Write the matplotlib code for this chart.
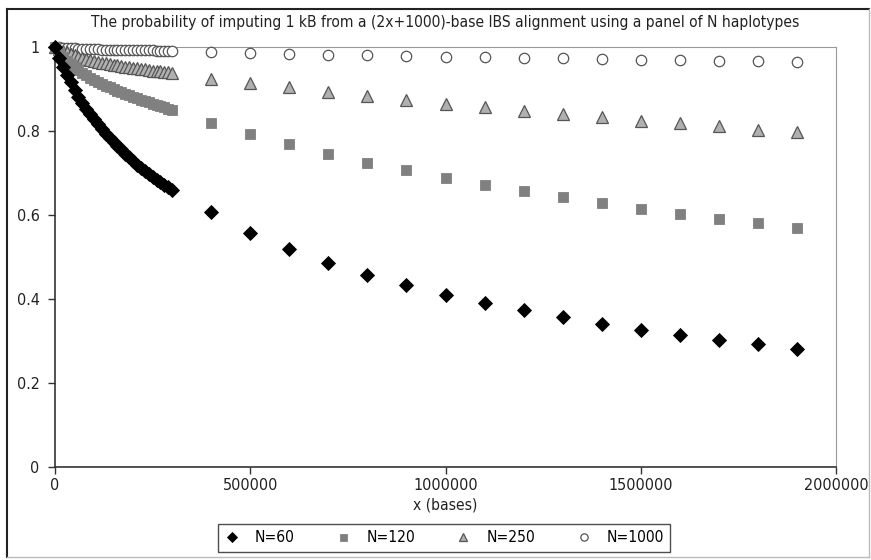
import matplotlib
matplotlib.use("Agg")
import matplotlib.pyplot as plt
from matplotlib.lines import Line2D

# ---- data ----
x_dense = list(range(0, 300001, 10000))
x_sparse = list(range(400000, 1900001, 100000))

n60_dense = [1.000, 0.975, 0.953, 0.934, 0.916, 0.898, 0.881, 0.867, 0.853, 0.840,
             0.828, 0.816, 0.805, 0.794, 0.784, 0.775, 0.765, 0.756, 0.746, 0.737,
             0.728, 0.720, 0.712, 0.704, 0.697, 0.690, 0.684, 0.678, 0.672, 0.666, 0.660]
n60_sparse = [0.606, 0.558, 0.519, 0.486, 0.457, 0.433, 0.410, 0.391, 0.373, 0.356,
              0.341, 0.327, 0.314, 0.302, 0.292, 0.281]

n120_dense = [1.000, 0.988, 0.977, 0.967, 0.960, 0.952, 0.945, 0.939, 0.933, 0.927,
              0.922, 0.917, 0.912, 0.908, 0.904, 0.900, 0.896, 0.892, 0.888, 0.885,
              0.881, 0.878, 0.874, 0.871, 0.868, 0.865, 0.862, 0.859, 0.856, 0.853, 0.850]
n120_sparse = [0.819, 0.793, 0.768, 0.745, 0.725, 0.706, 0.689, 0.672, 0.657, 0.643,
               0.629, 0.615, 0.603, 0.591, 0.580, 0.569]

n250_dense = [1.000, 0.995, 0.991, 0.987, 0.983, 0.980, 0.977, 0.974, 0.972, 0.969,
              0.967, 0.965, 0.963, 0.961, 0.959, 0.958, 0.956, 0.955, 0.953, 0.952,
              0.950, 0.949, 0.948, 0.947, 0.946, 0.944, 0.943, 0.942, 0.941, 0.940, 0.939]
n250_sparse = [0.925, 0.914, 0.904, 0.893, 0.883, 0.874, 0.865, 0.857, 0.848, 0.840,
               0.833, 0.825, 0.818, 0.811, 0.803, 0.797]

n1000_dense = [1.000, 0.999, 0.998, 0.998, 0.997, 0.997, 0.996, 0.996, 0.996, 0.995,
               0.995, 0.995, 0.994, 0.994, 0.994, 0.994, 0.993, 0.993, 0.993, 0.993,
               0.993, 0.992, 0.992, 0.992, 0.992, 0.992, 0.991, 0.991, 0.991, 0.991, 0.991]
n1000_sparse = [0.987, 0.985, 0.984, 0.982, 0.980, 0.979, 0.977, 0.976, 0.974, 0.973,
                0.971, 0.970, 0.968, 0.967, 0.966, 0.964]

labels = ["N=60", "N=120", "N=250", "N=1000"]
y_ticks = [0, 0.2, 0.4, 0.6, 0.8, 1]
y_ticklabels = ["0", "0.2", "0.4", "0.6", "0.8", "1"]
x_ticks = [0, 500000, 1000000, 1500000, 2000000]
x_ticklabels = ["0", "500000", "1000000", "1500000", "2000000"]

title = "The probability of imputing 1 kB from a (2x+1000)-base IBS alignment using a panel of N haplotypes"

plt.rcParams['font.family'] = ['DejaVu Sans']
plt.rcParams['font.stretch'] = 'condensed'

W, H = 871, 560
fig = plt.figure(figsize=(W / 100, H / 100), dpi=100)
ax = fig.add_axes([55 / W, 1 - 467 / H, (836 - 55) / W, (467 - 47) / H])

styles = [
    dict(marker='D', color='black', mfc='black', mec='black', ms=7.0, mew=0.6),
    dict(marker='s', color='#808080', mfc='#808080', mec='#808080', ms=7.2, mew=0.6),
    dict(marker='^', color='#555555', mfc='#b0b0b0', mec='#555555', ms=8.0, mew=0.9),
    dict(marker='o', color='#555555', mfc='white', mec='#555555', ms=7.5, mew=0.9),
]
series = [
    (n1000_dense, n1000_sparse, 3),
    (n250_dense, n250_sparse, 2),
    (n120_dense, n120_sparse, 1),
    (n60_dense, n60_sparse, 0),
]
for dense, sparse, i in series:
    st = styles[i]
    ax.plot(x_dense + x_sparse, dense + sparse, linestyle='none', zorder=3,
            clip_on=False, **st)

ax.set_xlim(0, 2000000)
ax.set_ylim(0, 1)
ax.set_xticks(x_ticks)
ax.set_xticklabels(x_ticklabels)
ax.set_yticks(y_ticks)
ax.set_yticklabels(y_ticklabels)
ax.tick_params(axis='both', direction='out', length=5, width=1, labelsize=11.5, pad=3,
               colors='#333333', labelcolor='#222222')
ax.tick_params(axis='y', pad=6)
ax.spines['left'].set_color('#333333')
ax.spines['bottom'].set_color('#333333')
ax.spines['left'].set_linewidth(1.2)
ax.spines['bottom'].set_linewidth(1.2)
ax.spines['top'].set_color('#999999')
ax.spines['right'].set_color('#999999')
ax.spines['top'].set_linewidth(0.8)
ax.spines['right'].set_linewidth(0.8)

ax.set_xlabel("x (bases)", fontsize=11.2, color='#222222', labelpad=3)
fig.text((55 + 836) / 2 / W, 1 - 22 / H, title, ha='center', va='center', fontsize=11.2,
         color='#222222')

handles = [Line2D([], [], linestyle='none', marker=styles[i]['marker'],
                  mfc=styles[i]['mfc'], mec=styles[i]['mec'], ms=styles[i]['ms'] * 0.7,
                  mew=styles[i]['mew']) for i in range(4)]
leg = fig.legend(handles, labels, loc='center', bbox_to_anchor=(444 / W, 1 - 538 / H),
                 ncol=4, fontsize=11.2, frameon=True, fancybox=False, edgecolor='#222222',
                 handlelength=1.0, handletextpad=1.0, columnspacing=2.6,
                 borderpad=0.4)
leg.get_frame().set_linewidth(1.0)

# figure frame
fig.add_artist(Line2D([7 / W, 869 / W], [1 - 9 / H, 1 - 9 / H], color='#222222', lw=1.5))
fig.add_artist(Line2D([7 / W, 7 / W], [1 - 9 / H, 1 - 557 / H], color='#222222', lw=1.5))
fig.add_artist(Line2D([869 / W, 869 / W], [1 - 9 / H, 1 - 557 / H], color='#bbbbbb', lw=1.0))
fig.add_artist(Line2D([7 / W, 869 / W], [1 - 557 / H, 1 - 557 / H], color='#bbbbbb', lw=1.0))

fig.savefig("out.png", dpi=100)
